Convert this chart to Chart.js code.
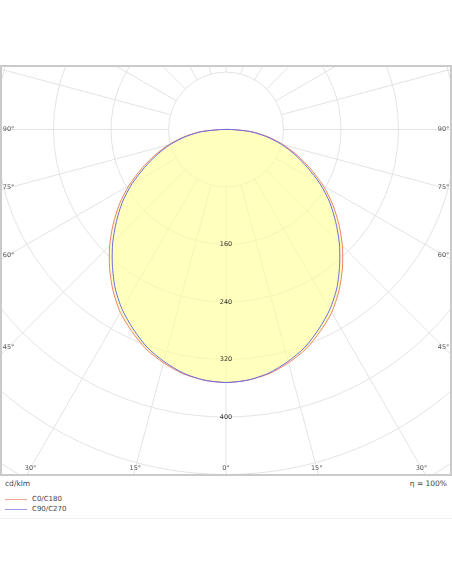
<!DOCTYPE html>
<html>
<head>
<meta charset="utf-8">
<script src="https://cdn.jsdelivr.net/npm/chart.js@4.4.0/dist/chart.umd.min.js"></script>
<style>
  html, body { margin: 0; padding: 0; background: #fff; }
  body { width: 452px; height: 584px; position: relative; overflow: hidden; font-family: 'DejaVu Sans', sans-serif; color: #444; }
  #frame { position: absolute; left: 0; top: 65px; width: 452px; height: 411px; box-sizing: border-box; border: 2px solid #cacaca; }
  #frame canvas { display: block; }
  .note { position: absolute; top: 479px; font-size: 7.5px; line-height: 10px; }
  .legend { position: absolute; left: 5px; font-size: 7px; line-height: 8px; }
  .legend span.swatch { display: inline-block; width: 22px; height: 1px; vertical-align: middle; margin-right: 5px; }
  #foot { position: absolute; left: 0; top: 476px; width: 452px; height: 42px; border-bottom: 1px solid #f2f2f2; }
</style>
</head>
<body>
<div id="foot"></div>
<div id="frame"><canvas id="chart" width="448" height="407"></canvas></div>
<div class="note" style="left:5px">cd/klm</div>
<div class="note" style="right:5px">η = 100%</div>
<div class="legend" style="top:495px"><span class="swatch" style="background:#f2a79c"></span>C0/C180</div>
<div class="legend" style="top:505px"><span class="swatch" style="background:#9d9dee"></span>C90/C270</div>
<script>
// Light distribution, cd/klm against gamma angle (0 = straight down)
const gammaAngles = [0, 5, 10, 15, 20, 25, 30, 35, 40, 45, 50, 55, 60, 65, 70, 75, 80, 85, 90];
const c0c180  = [352, 350, 345, 336, 325, 310, 294, 274, 252, 229, 205, 181, 156, 130, 106, 83, 60, 36, 8];
const c90c270 = [352, 350, 344, 334, 322, 306, 289, 269, 246, 223, 199, 176, 151, 125, 102, 80, 57, 34, 8];

// Grid
const gridCircles = [80, 160, 240, 320, 400, 480, 560, 640, 720, 800];
const radialTickLabels = [160, 240, 320, 400];
const angleLabels = [0, 15, 30, 45, 60, 75, 90];

// Scale: 80 cd/klm = 57.5 px, pole sits at (224, 62.5) inside the canvas
const PX_PER_UNIT = 57.5 / 80;
const POLE_X = 224, POLE_Y = 62.5;
const CANVAS_W = 448, CANVAS_H = 407;

function toRad(deg) { return deg * Math.PI / 180; }

// left half (C180 / C270) from 90 down to 0, then right half (C0 / C90) back up to 90
function curvePoints(values) {
    const pts = [];
    for (let i = gammaAngles.length - 1; i >= 0; i--) {
        const a = toRad(gammaAngles[i]);
        pts.push({ x: -values[i] * Math.sin(a), y: -values[i] * Math.cos(a) });
    }
    for (let i = 1; i < gammaAngles.length; i++) {
        const a = toRad(gammaAngles[i]);
        pts.push({ x: values[i] * Math.sin(a), y: -values[i] * Math.cos(a) });
    }
    pts.push(pts[0]);
    return pts;
}

const polarGrid = {
    id: 'polarGrid',
    beforeDatasetsDraw(chart) {
        const { ctx, scales: { x, y } } = chart;
        const cx = x.getPixelForValue(0), cy = y.getPixelForValue(0);
        const unit = x.getPixelForValue(1) - cx;
        ctx.save();
        ctx.strokeStyle = '#e3e3e3';
        ctx.lineWidth = 1;
        gridCircles.forEach(v => {
            ctx.beginPath();
            ctx.arc(cx, cy, v * unit, 0, Math.PI * 2);
            ctx.stroke();
        });
        // spokes every 15 deg, starting at the first circle
        const r0 = gridCircles[0] * unit;
        const r1 = gridCircles[gridCircles.length - 1] * unit;
        for (let a = 0; a < 360; a += 15) {
            const t = toRad(a);
            ctx.beginPath();
            ctx.moveTo(cx + r0 * Math.sin(t), cy + r0 * Math.cos(t));
            ctx.lineTo(cx + r1 * Math.sin(t), cy + r1 * Math.cos(t));
            ctx.stroke();
        }
        ctx.restore();
    },
    afterDatasetsDraw(chart) {
        const { ctx, chartArea, scales: { x, y } } = chart;
        const cx = x.getPixelForValue(0), cy = y.getPixelForValue(0);
        ctx.save();
        ctx.font = '6.5px "DejaVu Sans"';
        ctx.textAlign = 'center';
        ctx.textBaseline = 'middle';

        // intensity values along the 0 deg spoke
        ctx.fillStyle = '#333';
        radialTickLabels.forEach(v => {
            ctx.fillText(String(v), cx, y.getPixelForValue(-v));
        });

        // gamma angles where each spoke meets the frame
        ctx.fillStyle = '#555';
        const left = chartArea.left + 6.5, right = chartArea.right - 6.5, bottom = chartArea.bottom - 6;
        angleLabels.forEach(g => {
            const s = Math.sin(toRad(g)), c = Math.cos(toRad(g));
            let t = Infinity;
            if (s > 1e-6) t = Math.min(t, (right - cx) / s);
            if (c > 1e-6) t = Math.min(t, (bottom - cy) / c);
            const py = cy + t * c;
            const dx = t * s;
            const txt = g + '°';
            if (g === 0) {
                ctx.fillText(txt, cx, py);
            } else {
                ctx.fillText(txt, cx + dx, py);
                ctx.fillText(txt, cx - (cx - left) / (right - cx) * dx, py);
            }
        });
        ctx.restore();
    }
};

new Chart(document.getElementById('chart'), {
    type: 'scatter',
    data: {
        datasets: [
            {
                label: 'C90/C270',
                data: curvePoints(c90c270),
                showLine: true,
                borderColor: '#6c6ce6',
                borderWidth: 1,
                pointRadius: 0,
                tension: 0.25,
                fill: false
            },
            {
                label: 'C0/C180',
                data: curvePoints(c0c180),
                showLine: true,
                borderColor: '#f0806e',
                borderWidth: 1,
                pointRadius: 0,
                tension: 0.25,
                backgroundColor: 'rgba(255, 255, 150, 0.62)',
                fill: 'shape'
            }
        ]
    },
    options: {
        responsive: false,
        animation: false,
        layout: { padding: 0 },
        scales: {
            x: { display: false, min: -POLE_X / PX_PER_UNIT, max: (CANVAS_W - POLE_X) / PX_PER_UNIT },
            y: { display: false, min: -(CANVAS_H - POLE_Y) / PX_PER_UNIT, max: POLE_Y / PX_PER_UNIT }
        },
        plugins: {
            legend: { display: false },
            tooltip: { enabled: false }
        }
    },
    plugins: [polarGrid]
});
</script>
</body>
</html>
